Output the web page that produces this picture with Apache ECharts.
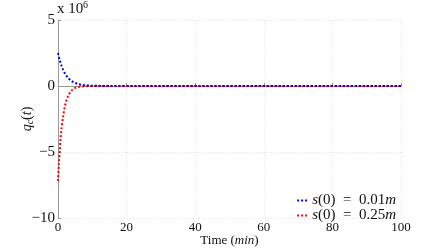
<!DOCTYPE html>
<html><head><meta charset="utf-8">
<script src="https://cdn.jsdelivr.net/npm/echarts@6/dist/echarts.min.js"></script>
<style>html,body{margin:0;padding:0;background:#fff}#c{width:443px;height:249px}</style>
</head><body><div id="c"></div>
<script>
// values in units of 10^6
var blueT = [0, 0.5, 1, 1.5, 2, 2.5, 3, 4, 5, 6, 7, 8, 10, 12, 15, 100];
var blueV = [2.5, 1.97, 1.55, 1.22, 0.96, 0.76, 0.6, 0.37, 0.23, 0.14, 0.09, 0.05, 0.02, 0.01, 0, 0];
var redT = [0, 0.25, 0.5, 0.75, 1, 1.5, 2, 2.5, 3, 4, 5, 6, 8, 10, 100];
var redV = [-7.2, -5.9, -4.9, -4.0, -3.3, -2.3, -1.55, -1.05, -0.72, -0.33, -0.15, -0.07, -0.02, 0, 0];
var xTicks = [0, 20, 40, 60, 80, 100];
var yTicks = [-10, -5, 0, 5];
var seriesNames = ['s(0) = 0.01m', 's(0) = 0.25m'];

function pairs(t, v) { return t.map(function (x, i) { return [x, v[i]]; }); }
var serif = 'Liberation Serif';
var chart = echarts.init(document.getElementById('c'));
chart.setOption({
  animation: false,
  grid: { left: 58, right: 42, top: 20, bottom: 31, containLabel: false, outerBoundsMode: 'none' },
  graphic: [{
    type: 'text', left: 57, top: 2,
    style: { text: 'x 10', font: '15px ' + serif, fill: '#111' }
  }, {
    type: 'text', left: 83, top: 0,
    style: { text: '6', font: '10px ' + serif, fill: '#111' }
  }],
  legend: {
    orient: 'vertical', right: 42, top: 188, itemGap: 0,
    icon: 'path://M0,0h2v2h-2z M4,0h2v2h-2z M8,0h2v2h-2z',
    itemWidth: 10, itemHeight: 2,
    textStyle: {
      fontFamily: serif, fontSize: 15, color: '#111',
      rich: {
        i: { fontFamily: serif, fontStyle: 'italic', fontSize: 15 },
        n: { fontFamily: serif, fontSize: 15 }
      }
    },
    formatter: function (name) {
      var v = name.indexOf('0.01') >= 0 ? '0.01' : '0.25';
      return '{i|s}{n|(0)  =  ' + v + '}{i|m}';
    },
    data: seriesNames
  },
  xAxis: {
    type: 'value', min: 0, max: 100, interval: 20,
    name: '{n|Time (}{i|min}{n|)}', nameLocation: 'middle', nameGap: 16, nameMoveOverlap: false,
    nameTextStyle: {
      fontFamily: serif, fontSize: 13, color: '#111',
      rich: { i: { fontFamily: serif, fontStyle: 'italic', fontSize: 13 }, n: { fontFamily: serif, fontSize: 13 } }
    },
    axisLine: { lineStyle: { color: '#999' } },
    axisTick: { inside: true, length: 3, lineStyle: { color: '#999' } },
    axisLabel: { fontFamily: serif, fontSize: 13, color: '#111', margin: 3,
      formatter: function (v) { return xTicks.indexOf(v) >= 0 ? String(v) : ''; } },
    splitLine: { show: true, lineStyle: { color: '#e4e4e4', type: [1, 2] } }
  },
  yAxis: {
    type: 'value', min: -10, max: 5, interval: 5,
    name: '{i|q}{s|c}{n|(}{i|t}{n|)}', nameLocation: 'middle', nameGap: 23, nameMoveOverlap: false,
    nameTextStyle: {
      color: '#111',
      rich: {
        i: { fontFamily: serif, fontStyle: 'italic', fontSize: 14 },
        n: { fontFamily: serif, fontSize: 14 },
        s: { fontFamily: serif, fontStyle: 'italic', fontSize: 10, padding: [6, 0, 0, 0] }
      }
    },
    axisLine: { show: true, lineStyle: { color: '#999' } },
    axisTick: { show: true, inside: true, length: 3, lineStyle: { color: '#999' } },
    axisLabel: { fontFamily: serif, fontSize: 15, color: '#111', margin: 3,
      formatter: function (v) { return yTicks.indexOf(v) >= 0 ? (v < 0 ? '\u2212' + (-v) : String(v)) : ''; } },
    splitLine: { show: true, lineStyle: { color: '#e4e4e4', type: [1, 2] } }
  },
  series: [{
    name: seriesNames[0], type: 'line', data: pairs(blueT, blueV), symbol: 'none', smooth: 0.3,
    lineStyle: { color: '#0000ff', width: 2, type: [2, 2] }, itemStyle: { color: '#0000ff' }, z: 3
  }, {
    name: seriesNames[1], type: 'line', data: pairs(redT, redV), symbol: 'none', smooth: 0.3,
    lineStyle: { color: '#ff0000', width: 2, type: [2, 2] }, itemStyle: { color: '#ff0000' }, z: 2
  }]
});
</script></body></html>
